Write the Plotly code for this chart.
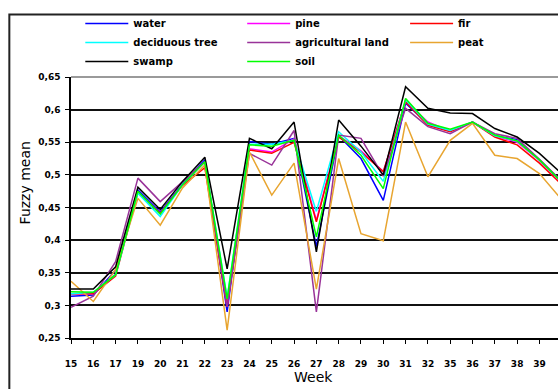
import plotly.graph_objects as go

weeks = ["15", "16", "17", "19", "20", "21", "22", "23", "24", "25", "26", "27",
         "28", "29", "30", "31", "32", "35", "36", "37", "38", "39", "40"]

water = [0.314, 0.316, 0.354, 0.477, 0.443, 0.486, 0.523, 0.290, 0.551, 0.547, 0.556, 0.390,
         0.560, 0.525, 0.461, 0.610, 0.578, 0.567, 0.581, 0.560, 0.554, 0.523, 0.489]
pine = [0.318, 0.318, 0.348, 0.474, 0.441, 0.485, 0.520, 0.298, 0.540, 0.535, 0.555, 0.430,
        0.560, 0.537, 0.505, 0.613, 0.581, 0.567, 0.581, 0.560, 0.550, 0.522, 0.488]
fir = [0.318, 0.318, 0.345, 0.473, 0.441, 0.484, 0.511, 0.298, 0.538, 0.533, 0.550, 0.428,
       0.558, 0.535, 0.505, 0.612, 0.576, 0.566, 0.581, 0.558, 0.546, 0.518, 0.485]
deciduous_tree = [0.318, 0.320, 0.347, 0.472, 0.436, 0.485, 0.520, 0.312, 0.547, 0.547, 0.553, 0.444,
                  0.566, 0.535, 0.490, 0.615, 0.578, 0.568, 0.581, 0.560, 0.552, 0.523, 0.489]
agricultural_land = [0.297, 0.314, 0.367, 0.495, 0.459, 0.490, 0.520, 0.298, 0.533, 0.515, 0.568, 0.290,
                     0.561, 0.556, 0.498, 0.602, 0.574, 0.563, 0.581, 0.563, 0.556, 0.524, 0.490]
peat = [0.337, 0.306, 0.355, 0.464, 0.423, 0.480, 0.515, 0.262, 0.535, 0.469, 0.518, 0.325,
        0.525, 0.410, 0.399, 0.581, 0.497, 0.553, 0.579, 0.530, 0.525, 0.502, 0.462]
swamp = [0.325, 0.325, 0.359, 0.481, 0.447, 0.490, 0.527, 0.356, 0.556, 0.540, 0.581, 0.382,
         0.584, 0.544, 0.500, 0.635, 0.602, 0.595, 0.594, 0.571, 0.558, 0.533, 0.502]
soil = [0.321, 0.320, 0.347, 0.475, 0.440, 0.485, 0.520, 0.310, 0.546, 0.544, 0.553, 0.405,
        0.561, 0.530, 0.479, 0.617, 0.579, 0.570, 0.581, 0.561, 0.552, 0.523, 0.489]

y_ticks = [0.25, 0.30, 0.35, 0.40, 0.45, 0.50, 0.55, 0.60, 0.65]
y_tick_text = ["0,25", "0,3", "0,35", "0,4", "0,45", "0,5", "0,55", "0,6", "0,65"]

series = [
    ("water", water, "#0000FF", "legend"),
    ("pine", pine, "#FF00FF", "legend2"),
    ("fir", fir, "#FF0000", "legend3"),
    ("deciduous tree", deciduous_tree, "#00FFFF", "legend"),
    ("agricultural land", agricultural_land, "#993399", "legend2"),
    ("peat", peat, "#E8A530", "legend3"),
    ("swamp", swamp, "#000000", "legend"),
    ("soil", soil, "#00FF00", "legend2"),
]

FONT = "DejaVu Sans"

fig = go.Figure()
for name, vals, col, lg in series:
    fig.add_trace(go.Scatter(x=weeks, y=vals, mode="lines", name=name,
                             line=dict(color=col, width=1.5), legend=lg))

W, H = 558, 389
L, T, B = 70.7, 76.7, 50.7
pw = W - L
ph = H - T - B


def px_x(x):
    return (x - L) / pw


def px_y(y):
    return (H - B - y) / ph


leg_common = dict(orientation="v", bgcolor="rgba(0,0,0,0)", borderwidth=0,
                  font=dict(family=FONT, size=10, color="#000000", weight="bold"),
                  xanchor="left", yanchor="top", tracegroupgap=0, itemwidth=43)

fig.update_layout(
    width=W, height=H,
    margin=dict(l=L, r=0, t=T, b=B, autoexpand=False),
    paper_bgcolor="white", plot_bgcolor="white",
    font=dict(family=FONT, size=10, color="#000000"),
    legend=dict(x=px_x(80), y=px_y(8.5), **leg_common),
    legend2=dict(x=px_x(242), y=px_y(8.5), **leg_common),
    legend3=dict(x=px_x(405), y=px_y(8.5), **leg_common),
    xaxis=dict(
        type="category", range=[0, (W - L) / 22.32],
        tickmode="array", tickvals=weeks, ticktext=weeks,
        ticks="outside", ticklen=4, tickwidth=1, tickcolor="#000000",
        showline=True, linecolor="#000000", linewidth=1.5,
        showgrid=False, zeroline=False,
        tickfont=dict(family=FONT, size=9, color="#000000", weight="bold"),
        ticklabelstandoff=12,
    ),
    yaxis=dict(
        range=[0.25, 0.65], tickmode="array", tickvals=y_ticks, ticktext=y_tick_text,
        ticks="outside", ticklen=4, tickwidth=1, tickcolor="#000000",
        showline=True, linecolor="#000000", linewidth=1.5,
        showgrid=True, gridcolor="#111111", gridwidth=1.5, zeroline=False,
        tickfont=dict(family=FONT, size=9, color="#000000", weight="bold"),
        ticklabelstandoff=3,
    ),
    annotations=[
        dict(text="Fuzzy mean", xref="paper", yref="paper", x=px_x(25), y=px_y(183),
             textangle=-90, showarrow=False, font=dict(family=FONT, size=14, color="#000000"),
             xanchor="center", yanchor="middle"),
        dict(text="Week", xref="paper", yref="paper", x=px_x(313.7), y=px_y(377),
             showarrow=False, font=dict(family=FONT, size=14, color="#000000"),
             xanchor="center", yanchor="middle"),
    ],
    shapes=[
        dict(type="rect", xref="paper", yref="paper", x0=px_x(9), x1=1.1,
             y0=-0.5, y1=px_y(14), line=dict(color="#222222", width=2), layer="below"),
        dict(type="line", xref="paper", yref="paper", x0=0, x1=1, y0=1, y1=1,
             line=dict(color="#9a9a9a", width=2), layer="above"),
    ],
)

fig.write_html("out.html", config={"displayModeBar": False},
               post_script="document.body.style.margin='0';document.body.style.overflow='hidden';")
